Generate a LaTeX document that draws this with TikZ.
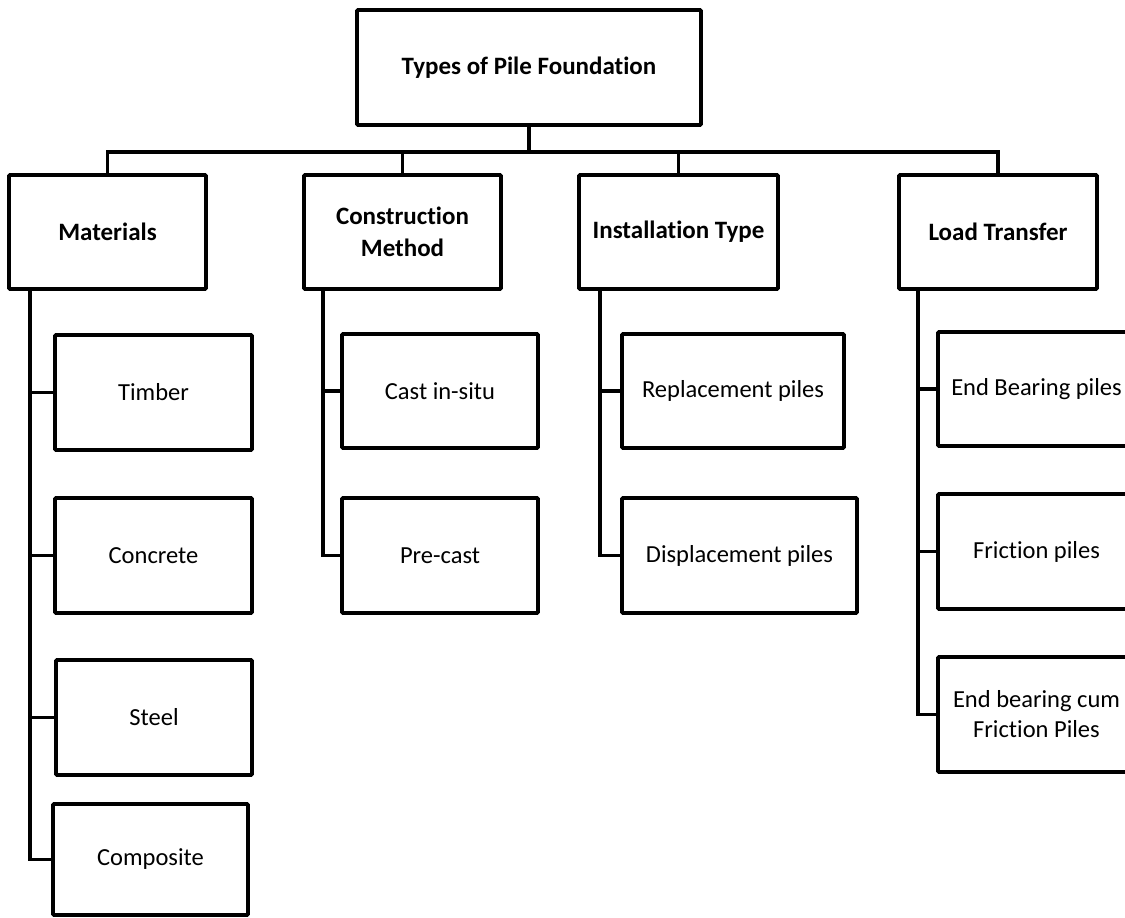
\documentclass[tikz,border=0pt]{standalone}
\usepackage{fontspec}
\setmainfont{Carlito}[Ligatures={NoCommon}]
\begin{document}
\begin{tikzpicture}[x=1pt,y=-1pt,
  box/.style={draw=black,line width=3.8pt,fill=white,inner sep=0pt,align=center,rounded corners=1pt},
  headbox/.style={box,font=\fontsize{25}{32}\selectfont\bfseries},
  leafbox/.style={box,minimum width=197pt,minimum height=114pt,font=\fontsize{24.5}{30}\selectfont},
  link/.style={line width=3.6pt,line join=miter}]
\useasboundingbox (0,0) rectangle (1125,918);
\clip (0,0) rectangle (1125,918);
% top level
\node[headbox,minimum width=344pt,minimum height=115pt] (top) at (529,67.5) {Types of Pile Foundation};
% second level
\node[headbox,minimum width=197pt,minimum height=114pt] (mat) at (107.5,232) {Materials};
\node[headbox,minimum width=197pt,minimum height=114pt] (con) at (402.5,232) {Construction\\Method};
\node[headbox,minimum width=199pt,minimum height=114pt] (ins) at (678.5,232) {Installation Type};
\node[headbox,minimum width=198pt,minimum height=114pt] (load) at (998,232) {Load Transfer};
% leaves: materials
\node[leafbox,minimum height=115pt] (timber) at (153.5,392.5) {Timber};
\node[leafbox,minimum height=115pt] (concrete) at (153.5,555.5) {Concrete};
\node[leafbox,minimum width=196pt,minimum height=115pt] (steel) at (154,717.5) {Steel};
\node[leafbox,minimum width=195pt,minimum height=111pt] (composite) at (150.5,859.5) {Composite};
% leaves: construction
\node[leafbox,minimum width=196pt] (cast) at (440,391) {Cast in-situ};
\node[leafbox,minimum width=196pt,minimum height=115pt] (precast) at (440,555.5) {Pre-cast};
% leaves: installation
\node[leafbox,minimum width=222pt] (repl) at (733,391) {Replacement piles};
\node[leafbox,minimum width=235pt,minimum height=115pt] (displ) at (739.5,555.5) {Displacement piles};
% leaves: load transfer
\node[leafbox] (endb) at (1036.5,389) {End Bearing piles};
\node[leafbox,minimum height=115pt] (fric) at (1036.5,551.5) {Friction piles};
\node[leafbox,minimum height=115pt] (cum) at (1036.5,714.5) {End bearing cum\\Friction Piles};
% connectors top level
\coordinate (bar) at (529,152);
\draw[link] (top.south) -- (bar);
\draw[link] (mat.north) -- (mat.north |- bar) -- (load.north |- bar) -- (load.north);
\draw[link] (con.north) -- (con.north |- bar);
\draw[link] (ins.north) -- (ins.north |- bar);
% stems
\coordinate (ms) at (30,0);
\coordinate (cs) at (323,0);
\coordinate (is) at (600,0);
\coordinate (ls) at (918,0);
\draw[link] (mat.south -| ms) |- (composite.west);
\draw[link] (timber.west) -- (timber.west -| ms);
\draw[link] (concrete.west) -- (concrete.west -| ms);
\draw[link] (steel.west) -- (steel.west -| ms);
\draw[link] (con.south -| cs) |- (precast.west);
\draw[link] (cast.west) -- (cast.west -| cs);
\draw[link] (ins.south -| is) |- (displ.west);
\draw[link] (repl.west) -- (repl.west -| is);
\draw[link] (load.south -| ls) |- (cum.west);
\draw[link] (endb.west) -- (endb.west -| ls);
\draw[link] (fric.west) -- (fric.west -| ls);
\end{tikzpicture}
\end{document}
